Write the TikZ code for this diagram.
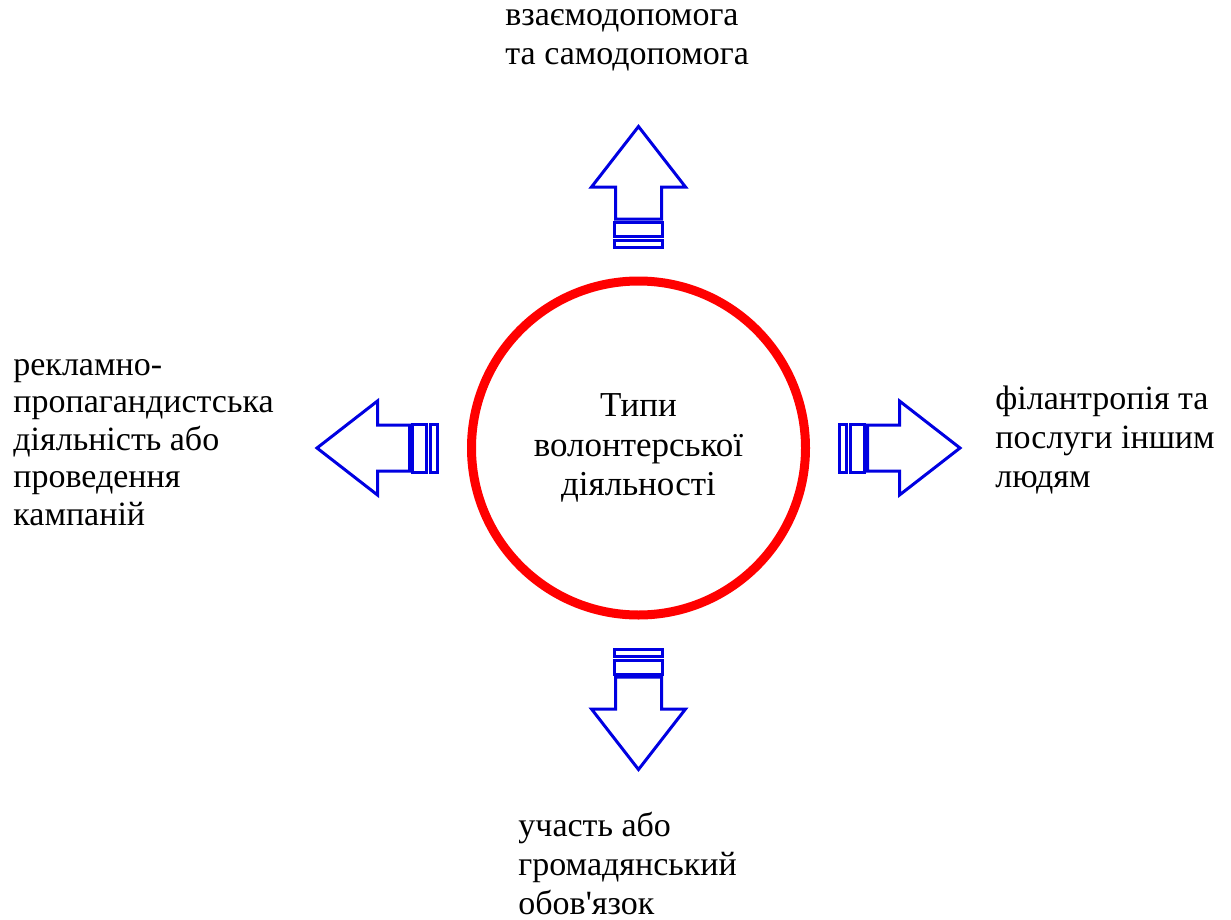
\documentclass[tikz,border=0pt]{standalone}
\usepackage{fontspec}
\setmainfont{Liberation Serif}
\usetikzlibrary{shapes.geometric}
\definecolor{ringred}{RGB}{255,0,0}
\definecolor{arrowblue}{RGB}{0,0,225}

\begin{document}
\begin{tikzpicture}[x=0.5pt, y=-0.5pt,
	label/.style={align=left, anchor=base west, inner sep=0pt, font=\fontsize{17}{19.5}\selectfont},
	arrowpart/.style={draw=arrowblue, line width=1.5pt, line join=miter}]
	\useasboundingbox (0,0) rectangle (1231,920);

	\node[circle, draw=ringred, line width=4.5pt, minimum size=167pt, align=center,
		font=\fontsize{17.5}{19.75}\selectfont] (types) at (638.5,448) {Типи\\волонтерської\\діяльності};

	% four block arrows around the ring
	\foreach \ang in {0,90,180,270}{
		\begin{scope}[shift={(types.center)}, rotate=\ang]
			\draw[arrowpart] (229,-23) -- (261,-23) -- (261,-47) -- (321.5,0) -- (261,47) -- (261,23) -- (229,23) -- cycle;
			\draw[arrowpart] (212,-24) rectangle (226,24);
			\draw[arrowpart] (201,-24) rectangle (208,24);
		\end{scope}
	}

	% labels, placed at the baseline of their last line
	\node[label] (mutual) at (505,65) {взаємодопомога\\та самодопомога};
	\node[label, font=\fontsize{17}{18.75}\selectfont] (advocacy) at (13,525)%
		{рекламно-\\пропагандистська\\діяльність або\\проведення\\кампаній};
	\node[label] (philanthropy) at (995,487) {філантропія та\\послуги іншим\\людям};
	\node[label] (participation) at (518,914) {участь або\\громадянський\\обов\textquotesingle язок};
\end{tikzpicture}
\end{document}
